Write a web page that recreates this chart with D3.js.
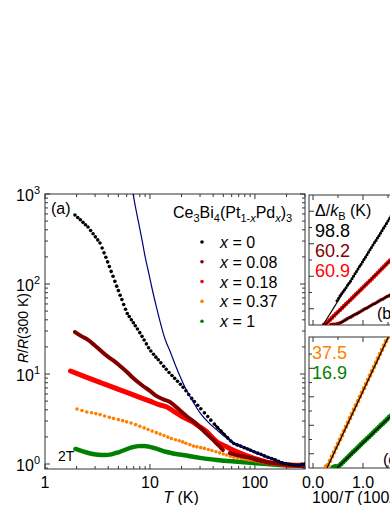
<!DOCTYPE html>
<html>
<head>
<meta charset="utf-8">
<script src="https://cdn.jsdelivr.net/npm/d3@7"></script>
<style>
  body { margin: 0; background: #fff; }
  svg { display: block; }
  text { font-family: Arial, "Liberation Sans", sans-serif; fill: #000; }
</style>
</head>
<body>
<script>

// ---- panel (a): R/R(300 K) vs T ----
var tBlack = [1.93,2.05,2.17,2.3,2.43,2.57,2.72,2.87,3.02,3.18,3.34,3.5,3.65,3.8,3.95,4.1,4.27,4.45,4.63,4.82,
  5.0,5.2,5.4,5.62,5.85,6.08,6.35,6.65,6.95,7.25,7.6,8.0,8.4,8.8,9.25,9.7,10.2,10.8,11.4,12.0,12.7,13.5,14.3,
  15.2,16.2,17.2,18.3,19.5,20.7,22,23.4,25,26.5,28.5,30.5,33,35.5,38,41,44,47.5,51,55,59,63,68,73,79,85,91,98,
  106,114,123,133,144,156,168,182,196,212,228,245,262,280,298];
var rBlack = [585,548,517,484,456,430,393,362,334,309,286,251,222,198,176,156,138,122,107,94.6,
  84.5,75.1,67.1,59.2,52.5,47.1,43.6,40.1,37.1,34.4,31.6,28.8,26.2,23.9,21.6,19.6,18.0,16.6,15.4,14.4,13.3,12.2,11.3,
  10.4,9.64,8.95,8.32,7.69,7.13,6.52,5.93,5.36,4.94,4.49,4.11,3.70,3.37,3.07,2.78,2.54,2.32,2.13,1.95,1.80,1.69,1.63,1.58,1.52,1.47,1.42,1.37,
  1.32,1.28,1.23,1.19,1.15,1.11,1.07,1.03,1.01,0.99,0.98,0.97,0.97,0.99,1.0];

var tDkred = [1.93,2.2,2.57,2.95,3.34,4.0,4.6,5.18,6,7,8.58,10,11.2,13,15.5,18,20.6,23,25.7,30,34.9,40,43.5,47,49.5,53,57.8,70,89.6,110,130,185,287];
var rDkred = [29.3,26.5,23.9,21,18.5,15.5,13.8,12.3,10.6,8.9,7.36,6.5,5.84,5.3,4.89,4.25,3.69,3.3,3.0,2.55,2.15,1.85,1.67,1.53,1.43,null,1.32,1.24,1.17,1.1,1.05,1.0,0.95];

var tRed = [1.75,2.5,3.5,4.6,6,8,10,12.4,14.5,17.5,20.6,23,25.7,30,34.9,40,43.5,50,61.7,75,89.6,110,130,170,215,290];
var rRed = [10.8,9.18,7.9,7.0,6.24,5.5,4.99,4.54,4.30,3.75,3.33,3.12,2.93,2.58,2.27,1.93,1.76,1.62,1.43,1.30,1.2,1.11,1.05,1.01,0.97,0.97];

var tOrange = [2.02,2.25,2.5,2.78,3.05,3.35,3.7,4.1,4.5,5.0,5.5,6.0,6.6,7.3,8.0,8.8,9.6,10.5,11.5,12.5,13.6,14.8,16,17.5,19,20.5,
  22,24,26,28,30.5,33,36,39,42.5,46,50,54,58.5,63,68,74,80,87,94,102,110,120,130,142,155,170,185,200,220,240,260,280,298];
var rOrange = [4.08,3.93,3.79,3.71,3.63,3.54,3.41,3.30,3.21,3.11,3.03,2.94,2.86,2.74,2.63,2.52,2.42,2.32,2.23,2.15,2.07,1.99,1.92,1.86,1.81,1.76,
  1.70,1.64,1.58,1.55,1.52,1.49,1.45,1.41,1.37,1.33,1.29,1.26,1.22,1.19,1.17,1.15,1.13,1.11,1.10,1.08,1.06,1.04,1.03,1.01,1.0,0.99,0.975,0.97,0.965,0.96,0.96,0.96,0.97];

var tGreen = [1.95,2.3,2.7,3.2,3.7,4.3,5,5.8,6.7,7.7,8.8,10,11.5,13,14.5,17,20.6,25,30,43.5,60,89.6,130,185,290];
var rGreen = [1.47,1.38,1.31,1.27,1.26,1.28,1.35,1.44,1.53,1.58,1.59,1.55,1.48,1.41,1.36,1.30,1.26,1.21,1.17,1.11,1.07,1.03,1.0,0.97,0.96];

// activated fit for x = 0
var tFit = [6.9,7.3,7.8,8.4,9.0,9.7,10.5,11.5,12.5,14,15.5,18,21,25,30,36,44,55,70,90,120,160,210,280,300];
var rFit = [1000,700,480,310,200,135,88,56,38,24,18,11.5,7.6,5.2,3.7,2.9,2.35,1.9,1.62,1.43,1.25,1.08,1.0,0.97,0.97];

var compositions = ['0','0.08','0.18','0.37','1'];
var seriesColors = ['#000000','#800000','#ff0000','#ff8000','#008000'];

// ---- panels (b),(c): ln R vs 100/T ----
var invBlack = [0.48,0.51,0.54,0.57,0.60,0.63,0.66,0.69,0.72,0.75,0.78,0.81,0.84,0.87,0.90,0.93,0.96,0.99,1.02,1.05,1.08,1.11,1.14,1.17,1.20,1.23,1.26,1.29,1.32,1.35,1.38,1.41,1.44,1.47,1.50,1.53,1.56,1.59];
var lnBlack = [0.30,0.33,0.36,0.385,0.41,0.435,0.46,0.49,0.515,0.54,0.57,0.60,0.63,0.66,0.69,0.72,0.745,0.775,0.805,0.835,0.865,0.895,0.925,0.955,0.985,1.015,1.04,1.07,1.10,1.13,1.16,1.19,1.22,1.25,1.28,1.31,1.34,1.37];

var invRed = [0.22,0.26,0.30,0.34,0.38,0.42,0.46,0.50,0.54,0.58,0.62,0.66,0.70,0.74,0.78,0.82,0.86,0.90,0.94,0.98,1.02,1.06,1.10,1.14,1.18,1.22,1.26,1.30,1.34,1.38,1.42,1.46,1.50,1.54,1.58,1.62];
var lnRed = [0.003,0.015,0.04,0.065,0.09,0.115,0.14,0.162,0.186,0.21,0.234,0.258,0.282,0.306,0.33,0.354,0.378,0.402,0.426,0.45,0.474,0.498,0.522,0.546,0.57,0.595,0.62,0.645,0.67,0.695,0.72,0.745,0.77,0.795,0.82,0.845];

var invDkred = [0.36,0.40,0.44,0.48,0.52,0.56,0.60,0.64,0.68,0.72,0.76,0.80,0.84,0.88,0.92,0.96,1.00,1.04,1.08,1.12,1.16,1.20,1.24,1.28,1.32,1.36,1.40,1.44,1.48,1.52,1.56,1.60];
var lnDkred = [0.005,0.008,0.01,0.015,0.02,0.03,0.045,0.06,0.075,0.09,0.10,0.115,0.13,0.14,0.155,0.17,0.185,0.20,0.21,0.225,0.24,0.255,0.265,0.28,0.295,0.31,0.32,0.335,0.35,0.36,0.375,0.39];

var invOrange = [0.26,0.30,0.34,0.38,0.42,0.46,0.50,0.54,0.58,0.62,0.66,0.70,0.74,0.78,0.82,0.86,0.90,0.94,0.98,1.02,1.06,1.10,1.14,1.18,1.22,1.26,1.30,1.34,1.38,1.42,1.46,1.50];
var lnOrange = [0.005,0.01,0.025,0.04,0.055,0.07,0.085,0.10,0.115,0.13,0.145,0.16,0.175,0.19,0.205,0.22,0.235,0.25,0.265,0.28,0.295,0.31,0.325,0.34,0.355,0.37,0.385,0.40,0.415,0.43,0.445,0.46];

var invGreen = [0.40,0.44,0.48,0.52,0.56,0.60,0.64,0.68,0.72,0.76,0.80,0.84,0.88,0.92,0.96,1.00,1.04,1.08,1.12,1.16,1.20,1.24,1.28,1.32,1.36,1.40,1.44,1.48,1.52,1.56,1.60];
var lnGreen = [0.003,0.005,0.004,0.008,0.014,0.021,0.028,0.035,0.042,0.049,0.056,0.062,0.069,0.076,0.083,0.09,0.097,0.104,0.11,0.117,0.124,0.131,0.137,0.144,0.151,0.157,0.164,0.171,0.178,0.184,0.191];

// straight Arrhenius fits (end points)
var fitB = [ {x:[0.2,2.1], y:[0,1.877]}, {x:[0.54,2.1], y:[0.025,0.563]}, {x:[0.24,2.1], y:[0,1.133]} ];
var fitC = [ {x:[0.28,2.1], y:[0,0.6825]}, {x:[0.48,2.1], y:[0,0.274]} ];
var gapB = ['98.8','60.2','60.9'];
var gapC = ['37.5','16.9'];

function zip(a, b) { return a.map(function(v, i) { return {x: v, y: b[i]}; }); }

// rich text with sub/superscripts
function rich(sel, parts, size) {
  var shift = 0;
  parts.forEach(function(p) {
    var off = p.sub ? 4 : (p.sup ? -7 : 0);
    var ts = sel.append('tspan').text(p.t)
      .attr('dy', off - shift)
      .style('font-size', (p.sub || p.sup ? Math.round(size * 0.66) : size) + 'px');
    if (p.it) ts.style('font-style', 'italic');
    shift = off;
  });
}

var svg = d3.select('body').append('svg')
  .attr('width', 390).attr('height', 505);

var axisCol = '#333';

// ================= panel (a) =================
var x = d3.scaleLog().domain([1, 300]).range([45, 305]);
var y = d3.scaleLog().domain([0.88, 1000]).range([469, 194]);

var gA = svg.append('g');
svg.append('clipPath').attr('id', 'clipA')
  .append('rect').attr('x', 45).attr('y', 194).attr('width', 260).attr('height', 275);

var xMaj = [1, 10, 100], xMin = [];
[1, 10, 100].forEach(function(d) { for (var k = 2; k <= 9; k++) if (k * d <= 300) xMin.push(k * d); });
var yMaj = [1, 10, 100, 1000], yMin = [0.9];
[1, 10, 100].forEach(function(d) { for (var k = 2; k <= 9; k++) yMin.push(k * d); });

function ticksX(g, sc, vals, len, y0, y1) {
  g.selectAll(null).data(vals).enter().append('line')
    .attr('x1', sc).attr('x2', sc).attr('y1', y0).attr('y2', y0 - len)
    .attr('stroke', axisCol);
  g.selectAll(null).data(vals).enter().append('line')
    .attr('x1', sc).attr('x2', sc).attr('y1', y1).attr('y2', y1 + len)
    .attr('stroke', axisCol);
}
function ticksY(g, sc, vals, len, x0, x1) {
  g.selectAll(null).data(vals).enter().append('line')
    .attr('y1', sc).attr('y2', sc).attr('x1', x0).attr('x2', x0 + len)
    .attr('stroke', axisCol);
  g.selectAll(null).data(vals).enter().append('line')
    .attr('y1', sc).attr('y2', sc).attr('x1', x1).attr('x2', x1 - len)
    .attr('stroke', axisCol);
}

ticksX(gA, x, xMaj, 5, 469, 194);
ticksX(gA, x, xMin, 3, 469, 194);
ticksY(gA, y, yMaj, 5, 45, 305);
ticksY(gA, y, yMin, 3, 45, 305);

gA.append('rect').attr('x', 45).attr('y', 194).attr('width', 260).attr('height', 275)
  .attr('fill', 'none').attr('stroke', axisCol);

gA.selectAll('.xl').data(xMaj).enter().append('text')
  .attr('x', x).attr('y', 488).attr('text-anchor', 'middle')
  .style('font-size', '16px').text(function(d) { return d; });

gA.selectAll('.yl').data(yMaj).enter().append('text')
  .attr('x', 40).attr('y', function(d) { return y(d) + 7; })
  .attr('text-anchor', 'end')
  .each(function(d) {
    rich(d3.select(this), [{t: '10'}, {t: String(Math.round(Math.log10(d))), sup: 1}], 16);
  });

gA.append('text').attr('x', 181).attr('y', 503).attr('text-anchor', 'middle')
  .each(function() { rich(d3.select(this), [{t: 'T', it: 1}, {t: ' (K)'}], 16); });

gA.append('text').attr('transform', 'translate(28,328) rotate(-90)').attr('text-anchor', 'middle')
  .each(function() { rich(d3.select(this), [{t: 'R', it: 1}, {t: '/'}, {t: 'R', it: 1}, {t: '(300 K)'}], 14); });

var plotA = gA.append('g').attr('clip-path', 'url(#clipA)');

var lineA = d3.line()
  .defined(function(d) { return d.y != null; })
  .x(function(d) { return x(d.x); }).y(function(d) { return y(d.y); })
  .curve(d3.curveMonotoneX);

// green (x = 1, 2 T)
plotA.append('path').datum(zip(tGreen, rGreen)).attr('d', lineA)
  .attr('fill', 'none').attr('stroke', seriesColors[4]).attr('stroke-width', 4.5).attr('stroke-linecap', 'round');
// orange (x = 0.37) dots
plotA.selectAll('.or').data(zip(tOrange, rOrange)).enter().append('circle')
  .attr('cx', function(d) { return x(d.x); }).attr('cy', function(d) { return y(d.y); })
  .attr('r', 1.8).attr('fill', seriesColors[3]);
// red (x = 0.18)
plotA.append('path').datum(zip(tRed, rRed)).attr('d', lineA)
  .attr('fill', 'none').attr('stroke', seriesColors[2]).attr('stroke-width', 5).attr('stroke-linecap', 'round');
// dark red (x = 0.08)
plotA.append('path').datum(zip(tDkred, rDkred)).attr('d', lineA)
  .attr('fill', 'none').attr('stroke', seriesColors[1]).attr('stroke-width', 4).attr('stroke-linecap', 'round');
// black (x = 0) dots; at high T the points run together into a band
plotA.append('path').datum(zip(tBlack, rBlack).filter(function(d) { return d.x >= 40; })).attr('d', lineA)
  .attr('fill', 'none').attr('stroke', seriesColors[0]).attr('stroke-width', 2.4);
plotA.selectAll('.bk').data(zip(tBlack, rBlack)).enter().append('circle')
  .attr('cx', function(d) { return x(d.x); }).attr('cy', function(d) { return y(d.y); })
  .attr('r', 1.8).attr('fill', seriesColors[0]);
// fit
plotA.append('path').datum(zip(tFit, rFit)).attr('d', lineA)
  .attr('fill', 'none').attr('stroke', '#000080').attr('stroke-width', 1.2);

gA.append('text').attr('x', 51).attr('y', 214).style('font-size', '16px').text('(a)');
gA.append('text').attr('x', 58).attr('y', 461).style('font-size', '14px').text('2T');

// legend
gA.append('text').attr('x', 173).attr('y', 218)
  .each(function() {
    rich(d3.select(this), [{t: 'Ce'}, {t: '3', sub: 1}, {t: 'Bi'}, {t: '4', sub: 1}, {t: '(Pt'},
      {t: '1-', sub: 1}, {t: 'x', sub: 1, it: 1}, {t: 'Pd'}, {t: 'x', sub: 1, it: 1}, {t: ')'}, {t: '3', sub: 1}], 16);
  });
var leg = gA.selectAll('.leg').data(compositions).enter().append('g')
  .attr('transform', function(d, i) { return 'translate(202,' + (242 + i * 19.8) + ')'; });
leg.append('circle').attr('r', 1.8).attr('fill', function(d, i) { return seriesColors[i]; });
leg.append('text').attr('x', 18).attr('y', 6)
  .each(function(d) { rich(d3.select(this), [{t: 'x', it: 1}, {t: ' = ' + d}], 16); });

// ================= panels (b), (c) =================
var xb = d3.scaleLinear().domain([-0.08, 2.2]).range([309, 423]);
var yb = d3.scaleLinear().domain([0, 1.6]).range([325, 195]);
var yc = d3.scaleLinear().domain([0, 0.46]).range([468, 337]);

svg.append('clipPath').attr('id', 'clipB')
  .append('rect').attr('x', 309).attr('y', 195).attr('width', 114).attr('height', 130);
svg.append('clipPath').attr('id', 'clipC')
  .append('rect').attr('x', 309).attr('y', 337).attr('width', 114).attr('height', 131);

function frame(ys, top, bot, yt) {
  var g = svg.append('g');
  var xt = [0, 0.5, 1.0, 1.5, 2.0];
  g.selectAll(null).data(xt).enter().append('line')
    .attr('x1', xb).attr('x2', xb).attr('y1', bot).attr('y2', function(d, i) { return bot - (i % 2 ? 3 : 5); })
    .attr('stroke', axisCol);
  g.selectAll(null).data(xt).enter().append('line')
    .attr('x1', xb).attr('x2', xb).attr('y1', top).attr('y2', function(d, i) { return top + (i % 2 ? 3 : 5); })
    .attr('stroke', axisCol);
  g.selectAll(null).data(yt).enter().append('line')
    .attr('y1', ys).attr('y2', ys).attr('x1', 309).attr('x2', function(d, i) { return 309 + (i % 2 ? 3 : 5); })
    .attr('stroke', axisCol);
  g.append('rect').attr('x', 309).attr('y', top).attr('width', 114).attr('height', bot - top)
    .attr('fill', 'none').attr('stroke', axisCol);
  return g;
}
var gB = frame(yb, 195, 325, [0.2, 0.4, 0.6, 0.8, 1.0, 1.2, 1.4]);
var gC = frame(yc, 337, 468, [0.05, 0.1, 0.15, 0.2, 0.25, 0.3, 0.35, 0.4]);

var pB = gB.append('g').attr('clip-path', 'url(#clipB)');
var pC = gC.append('g').attr('clip-path', 'url(#clipC)');

function dots(g, ys, xs, vs, col, r) {
  g.selectAll(null).data(zip(xs, vs)).enter().append('circle')
    .attr('cx', function(d) { return xb(d.x); }).attr('cy', function(d) { return ys(d.y); })
    .attr('r', r).attr('fill', col);
}
function fits(g, ys, list) {
  list.forEach(function(f) {
    g.append('path').datum(zip(f.x, f.y))
      .attr('d', d3.line().x(function(d) { return xb(d.x); }).y(function(d) { return ys(d.y); }))
      .attr('stroke', '#000').attr('stroke-width', 1.2).attr('fill', 'none');
  });
}

dots(pB, yb, invDkred, lnDkred, seriesColors[1], 1.8);
dots(pB, yb, invRed, lnRed, seriesColors[2], 2.2);
dots(pB, yb, invBlack, lnBlack, seriesColors[0], 1.5);
fits(pB, yb, fitB);

dots(pC, yc, invOrange, lnOrange, seriesColors[3], 2.3);
dots(pC, yc, invGreen, lnGreen, seriesColors[4], 2.5);
fits(pC, yc, fitC);

gB.append('text').attr('x', 315).attr('y', 216)
  .each(function() { rich(d3.select(this), [{t: '\u0394/'}, {t: 'k', it: 1}, {t: 'B', sub: 1}, {t: ' (K)'}], 16); });
gB.selectAll('.gb').data(gapB).enter().append('text')
  .attr('x', 315).attr('y', function(d, i) { return 237 + i * 20; })
  .style('font-size', '18px').style('fill', function(d, i) { return seriesColors[i]; })
  .text(function(d) { return d; });
gB.append('text').attr('x', 377).attr('y', 319).style('font-size', '16px').text('(b)');

gC.selectAll('.gc').data(gapC).enter().append('text')
  .attr('x', 312).attr('y', function(d, i) { return 359 + i * 20; })
  .style('font-size', '18px').style('fill', function(d, i) { return seriesColors[i + 3]; })
  .text(function(d) { return d; });
gC.append('text').attr('x', 383).attr('y', 465).style('font-size', '16px').text('(c)');

svg.selectAll('.bl').data([0, 1.0, 2.0]).enter().append('text')
  .attr('x', xb).attr('y', 488).attr('text-anchor', 'middle')
  .style('font-size', '16px').text(function(d) { return d.toFixed(1); });
svg.append('text').attr('x', 312).attr('y', 503)
  .each(function() { rich(d3.select(this), [{t: '100/'}, {t: 'T', it: 1}, {t: ' (100/K)'}], 16); });

</script>
</body>
</html>
